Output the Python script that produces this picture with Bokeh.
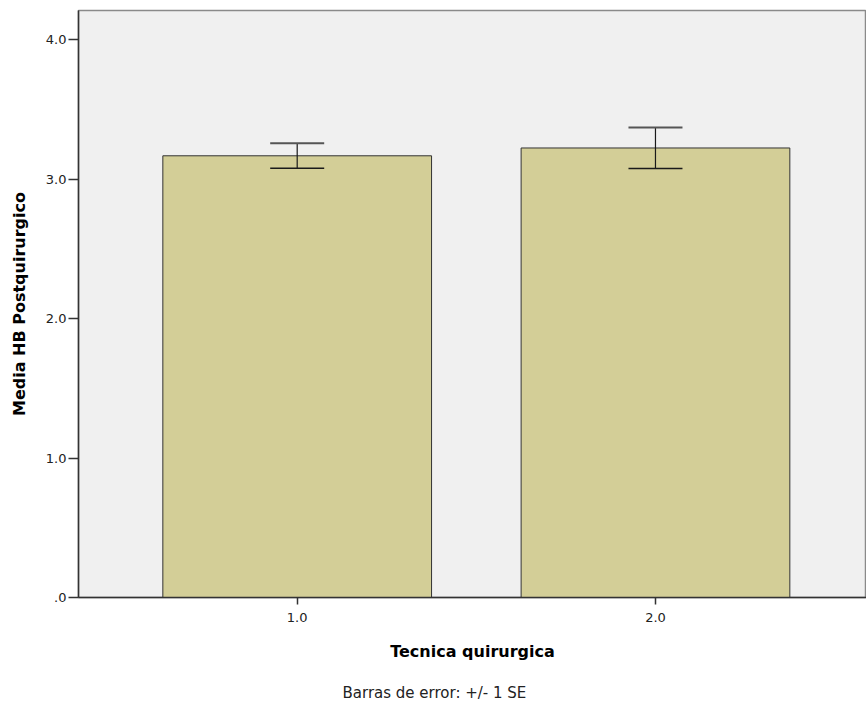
from bokeh.plotting import figure
from bokeh.models import Range1d, FixedTicker, Whisker, TeeHead, ColumnDataSource, Title
from bokeh.embed import file_html
from bokeh.resources import INLINE

# data
groups = [1.0, 2.0]
group_labels = ["1.0", "2.0"]
means = [3.168, 3.224]
se = [0.090, 0.147]
y_ticks = [0, 1, 2, 3, 4]
y_tick_labels = [".0", "1.0", "2.0", "3.0", "4.0"]
footnote = "Barras de error: +/- 1 SE"

lower = [m - s for m, s in zip(means, se)]
upper = [m + s for m, s in zip(means, se)]
src = ColumnDataSource(dict(x=groups, top=means, lower=lower, upper=upper))

FONT = "DejaVu Sans"

p = figure(width=866, height=707, output_backend="svg", toolbar_location=None,
           title=None, x_range=Range1d(0.3896, 2.589), y_range=Range1d(0, 4.21),
           min_border_left=78, min_border_right=0, min_border_top=10, min_border_bottom=110)
p.background_fill_color = "#F0F0F0"
p.border_fill_color = "white"
p.outline_line_color = "#8a8a8a"
p.outline_line_width = 1.5
p.xgrid.visible = False
p.ygrid.visible = False

p.vbar(x="x", top="top", width=0.75, source=src, fill_color="#D3CE97",
       line_color="#333333", line_width=1)

w = Whisker(base="x", lower="lower", upper="upper", source=src, level="overlay",
            line_color="#1a1a1a", line_width=1.2,
            upper_head=TeeHead(size=54, line_color="#555555", line_width=2),
            lower_head=TeeHead(size=54, line_color="#1a1a1a", line_width=1.5))
p.add_layout(w)

# y axis
p.yaxis.ticker = FixedTicker(ticks=y_ticks)
p.yaxis.major_label_overrides = {t: l for t, l in zip(y_ticks, y_tick_labels)}
p.yaxis.minor_tick_line_color = None
p.yaxis.major_tick_in = 0
p.yaxis.major_tick_out = 10
p.yaxis.major_label_standoff = 2
p.yaxis.axis_label = "Media HB Postquirurgico"
p.yaxis.axis_label_standoff = 14

# x axis
p.xaxis.ticker = FixedTicker(ticks=groups)
p.xaxis.major_label_overrides = {g: l for g, l in zip(groups, group_labels)}
p.xaxis.minor_tick_line_color = None
p.xaxis.major_tick_in = 0
p.xaxis.major_tick_out = 7
p.xaxis.major_label_standoff = 8
p.xaxis.axis_label = "Tecnica quirurgica"
p.xaxis.axis_label_standoff = 17

for ax in (p.xaxis, p.yaxis):
    ax.axis_line_color = "#333333"
    ax.axis_line_width = 1.5
    ax.major_tick_line_color = "#333333"
    ax.major_tick_line_width = 1.5
    ax.major_label_text_font = FONT
    ax.major_label_text_font_size = "13px"
    ax.major_label_text_color = "#222222"
    ax.axis_label_text_font = FONT
    ax.axis_label_text_font_style = "bold"
    ax.axis_label_text_font_size = "16px"
    ax.axis_label_text_color = "#000000"

foot = Title(text=footnote, align="left", offset=264, vertical_align="top",
             text_font=FONT, text_font_size="15px", text_font_style="normal",
             text_color="#222222", standoff=0, padding=(0, 0, 20, 0))
p.add_layout(foot, "below")

open("out.html", "w").write(file_html(p, INLINE))
